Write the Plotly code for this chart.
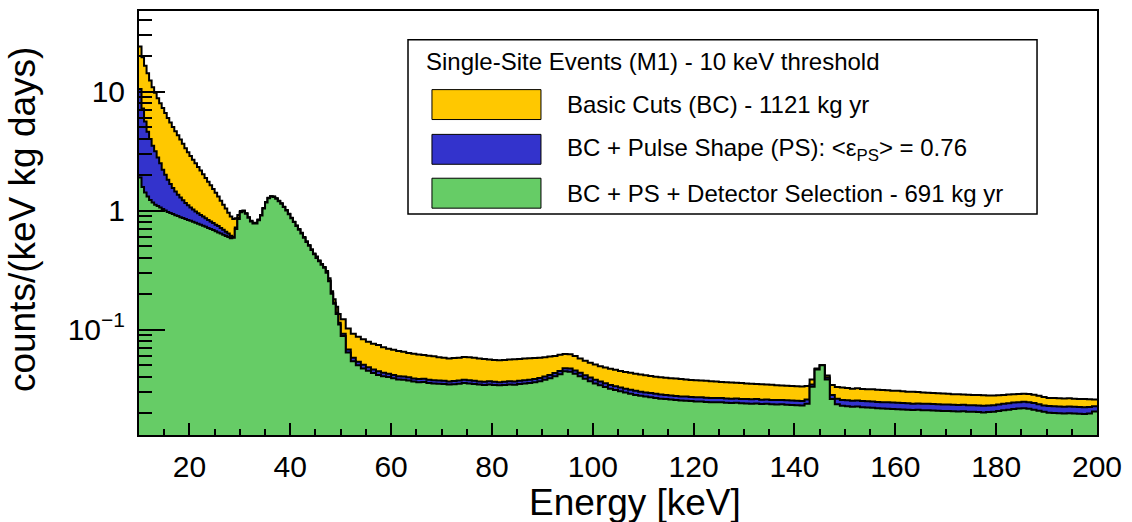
import plotly.graph_objects as go

# Bin edges in keV: 0.5 keV bins from 10 to 50, 1 keV bins from 50 to 200
bin_edges = [10 + 0.5 * i for i in range(80)] + list(range(50, 201))

# Basic Cuts (BC) - 1121 kg yr
bc = [
    # 10-50 keV (0.5 keV bins)
    24, 19.5, 16.5, 14.3, 12.4, 10.9, 9.8, 8.8, 8.0, 7.3,
    6.6, 6.0, 5.5, 5.05, 4.65, 4.3, 3.95, 3.65, 3.35, 3.1,
    2.88, 2.68, 2.5, 2.33, 2.17, 2.02, 1.88, 1.75, 1.63, 1.52,
    1.41, 1.31, 1.21, 1.12, 1.04, 0.96, 0.89, 0.85, 0.86, 0.92,
    0.99, 1.0, 0.95, 0.88, 0.82, 0.79, 0.79, 0.84, 0.92, 1.05,
    1.18, 1.28, 1.32, 1.31, 1.27, 1.21, 1.15, 1.07, 1.01, 0.94,
    0.87, 0.8, 0.75, 0.7, 0.65, 0.6, 0.55, 0.51, 0.47, 0.43,
    0.41, 0.38, 0.355, 0.335, 0.31, 0.27, 0.21, 0.18, 0.155, 0.135,
    # 50-200 keV (1 keV bins)
    0.122, 0.102, 0.092, 0.087, 0.083, 0.079, 0.076, 0.074, 0.071, 0.069,
    0.0675, 0.066, 0.065, 0.0635, 0.0625, 0.0615, 0.061, 0.0602, 0.0595, 0.0585,
    0.0578, 0.057, 0.0575, 0.058, 0.0588, 0.0585, 0.0578, 0.057, 0.0565, 0.056,
    0.0555, 0.0552, 0.0555, 0.056, 0.0562, 0.0565, 0.057, 0.0572, 0.0575, 0.058,
    0.0585, 0.0592, 0.06, 0.0612, 0.0622, 0.062, 0.0598, 0.057, 0.0545, 0.0525,
    0.0508, 0.0492, 0.048, 0.0468, 0.0458, 0.0448, 0.044, 0.0432, 0.0425, 0.0418,
    0.0412, 0.0406, 0.0401, 0.0397, 0.0393, 0.039, 0.0387, 0.0384, 0.038, 0.0377,
    0.0375, 0.0372, 0.037, 0.0368, 0.0365, 0.0362, 0.036, 0.0358, 0.0356, 0.0355,
    0.0352, 0.035, 0.0348, 0.0346, 0.0345, 0.0343, 0.034, 0.0339, 0.0337, 0.0335,
    0.0333, 0.0332, 0.0335, 0.038, 0.047, 0.05, 0.041, 0.0342, 0.0328, 0.0325,
    0.0322, 0.0318, 0.032, 0.0316, 0.0314, 0.0315, 0.0312, 0.031, 0.0308, 0.0306,
    0.0305, 0.0303, 0.03, 0.0299, 0.0298, 0.0296, 0.0294, 0.0292, 0.0291, 0.029,
    0.0288, 0.0286, 0.0285, 0.0284, 0.0283, 0.0282, 0.0281, 0.028, 0.0279, 0.0279,
    0.028, 0.0282, 0.0284, 0.0286, 0.0287, 0.0288, 0.0287, 0.0283, 0.0277, 0.0271,
    0.0266, 0.0265, 0.0264, 0.0263, 0.0264, 0.0262, 0.0261, 0.026, 0.0259, 0.0258,
]

# BC + Pulse Shape (PS)
bc_ps = [
    # 10-50 keV (0.5 keV bins)
    10.5, 7.2, 5.6, 4.6, 4.0, 3.5, 3.15, 2.8, 2.5, 2.2,
    2.0, 1.82, 1.67, 1.55, 1.45, 1.36, 1.29, 1.22, 1.16, 1.11,
    1.06, 1.02, 0.98, 0.95, 0.92, 0.89, 0.86, 0.835, 0.81, 0.785,
    0.76, 0.74, 0.715, 0.69, 0.665, 0.64, 0.615, 0.6, 0.72, 0.87,
    0.975, 0.99, 0.945, 0.875, 0.815, 0.785, 0.785, 0.835, 0.915, 1.045,
    1.175, 1.275, 1.315, 1.305, 1.265, 1.205, 1.145, 1.075, 1.005, 0.935,
    0.865, 0.805, 0.745, 0.695, 0.645, 0.595, 0.55, 0.51, 0.47, 0.435,
    0.404, 0.378, 0.353, 0.333, 0.303, 0.258, 0.204, 0.168, 0.138, 0.114,
    # 50-200 keV (1 keV bins)
    0.092, 0.068, 0.058, 0.0535, 0.0505, 0.0482, 0.0462, 0.0445, 0.0432, 0.0425,
    0.0415, 0.0405, 0.0402, 0.0396, 0.0388, 0.0383, 0.0385, 0.0378, 0.0374, 0.0372,
    0.037, 0.0366, 0.0369, 0.0373, 0.0378, 0.0375, 0.037, 0.0366, 0.0363, 0.0367,
    0.0363, 0.0361, 0.0364, 0.0367, 0.0365, 0.037, 0.0375, 0.0378, 0.0383, 0.0392,
    0.0402, 0.0415, 0.043, 0.0447, 0.0472, 0.047, 0.0452, 0.0432, 0.0412, 0.0394,
    0.0378, 0.0365, 0.0353, 0.0342, 0.0334, 0.0325, 0.0318, 0.0311, 0.0305, 0.03,
    0.0295, 0.0292, 0.0288, 0.0284, 0.0281, 0.0279, 0.0276, 0.0274, 0.0273, 0.0271,
    0.0269, 0.0269, 0.0267, 0.0266, 0.0265, 0.0265, 0.0263, 0.0262, 0.0263, 0.0261,
    0.026, 0.0259, 0.026, 0.0257, 0.0258, 0.0256, 0.0255, 0.0256, 0.0254, 0.0253,
    0.0252, 0.0251, 0.0258, 0.0345, 0.0465, 0.05, 0.0395, 0.0282, 0.0262, 0.0256,
    0.0254, 0.0252, 0.0253, 0.025, 0.0249, 0.0248, 0.0246, 0.0245, 0.0244, 0.0243,
    0.0242, 0.0241, 0.024, 0.0238, 0.0239, 0.0237, 0.0237, 0.0236, 0.0235, 0.0234,
    0.0234, 0.0233, 0.0232, 0.0233, 0.0231, 0.0231, 0.023, 0.0229, 0.023, 0.0231,
    0.0234, 0.0237, 0.024, 0.0243, 0.0245, 0.0247, 0.0245, 0.0241, 0.0235, 0.023,
    0.0227, 0.0226, 0.0225, 0.0224, 0.0225, 0.0224, 0.0223, 0.0222, 0.0223, 0.0226,
]

# BC + PS + Detector Selection - 691 kg yr
bc_ps_ds = [
    # 10-50 keV (0.5 keV bins)
    1.9, 1.58, 1.42, 1.31, 1.23, 1.17, 1.12, 1.09, 1.06, 1.03,
    1.0, 0.975, 0.955, 0.935, 0.915, 0.9, 0.88, 0.865, 0.85, 0.835,
    0.82, 0.805, 0.79, 0.775, 0.76, 0.745, 0.73, 0.715, 0.7, 0.685,
    0.67, 0.655, 0.64, 0.625, 0.61, 0.6, 0.585, 0.59, 0.7, 0.85,
    0.97, 0.985, 0.94, 0.87, 0.81, 0.78, 0.78, 0.83, 0.91, 1.04,
    1.17, 1.27, 1.31, 1.3, 1.26, 1.2, 1.14, 1.07, 1.0, 0.93,
    0.86, 0.8, 0.74, 0.69, 0.64, 0.59, 0.545, 0.505, 0.465, 0.43,
    0.4, 0.375, 0.35, 0.33, 0.3, 0.255, 0.2, 0.165, 0.135, 0.11,
    # 50-200 keV (1 keV bins)
    0.088, 0.064, 0.054, 0.05, 0.047, 0.045, 0.043, 0.0415, 0.0405, 0.0398,
    0.039, 0.038, 0.0378, 0.0372, 0.0365, 0.036, 0.0362, 0.0355, 0.0352, 0.035,
    0.0348, 0.0345, 0.0347, 0.035, 0.0355, 0.0352, 0.0348, 0.0345, 0.0342, 0.0345,
    0.0342, 0.034, 0.0342, 0.0345, 0.0343, 0.0348, 0.0352, 0.0355, 0.036, 0.0368,
    0.0378, 0.039, 0.0405, 0.042, 0.0445, 0.0442, 0.0425, 0.0405, 0.0385, 0.0368,
    0.0352, 0.034, 0.0328, 0.0318, 0.031, 0.0302, 0.0295, 0.0288, 0.0282, 0.0278,
    0.0273, 0.027, 0.0266, 0.0262, 0.026, 0.0258, 0.0255, 0.0253, 0.0252, 0.025,
    0.0248, 0.0248, 0.0246, 0.0245, 0.0244, 0.0244, 0.0242, 0.0241, 0.0242, 0.024,
    0.0239, 0.0238, 0.0239, 0.0236, 0.0237, 0.0235, 0.0234, 0.0235, 0.0233, 0.0232,
    0.0231, 0.023, 0.0238, 0.033, 0.046, 0.05, 0.038, 0.026, 0.0235, 0.0228,
    0.0226, 0.0224, 0.0225, 0.0222, 0.0221, 0.022, 0.0218, 0.0217, 0.0216, 0.0215,
    0.0214, 0.0213, 0.0212, 0.021, 0.0211, 0.0209, 0.0209, 0.0208, 0.0207, 0.0206,
    0.0206, 0.0205, 0.0204, 0.0205, 0.0203, 0.0203, 0.0202, 0.0201, 0.0202, 0.0203,
    0.0206, 0.0209, 0.0212, 0.0215, 0.0217, 0.0218, 0.0216, 0.0212, 0.0207, 0.0203,
    0.02, 0.0199, 0.0198, 0.0197, 0.0198, 0.0197, 0.0196, 0.0195, 0.0197, 0.0204,
]

x_ticks = [20, 40, 60, 80, 100, 120, 140, 160, 180, 200]
y_ticks = [0.1, 1, 10]
y_ticktext = ["10<sup>\u22121</sup>", "1", "10"]

legend_header = "Single-Site Events (M1) - 10 keV threshold"
legend_labels = [
    "Basic Cuts (BC) - 1121 kg yr",
    "BC + Pulse Shape (PS): &lt;\u03b5<sub>PS</sub>&gt; = 0.76",
    "BC + PS + Detector Selection - 691 kg yr",
]

YELLOW = "rgb(255,200,0)"
BLUE = "rgb(51,51,204)"
GREEN = "rgb(102,204,102)"
colors = [YELLOW, BLUE, GREEN]
FONT = "Liberation Sans, Arial, Helvetica, sans-serif"

fig = go.Figure()
for vals, col in zip([bc, bc_ps, bc_ps_ds], colors):
    fig.add_trace(go.Scatter(
        x=bin_edges, y=vals + [vals[-1]],
        mode="lines",
        line=dict(shape="hv", color="black", width=2),
        fill="tozeroy", fillcolor=col,
        showlegend=False, hoverinfo="skip",
    ))

minor_y = [m * 10 ** k for k in (-2, -1, 0, 1) for m in range(2, 10)]

fig.update_layout(
    width=1132, height=522,
    margin=dict(l=139, r=35, t=9, b=87),
    paper_bgcolor="white", plot_bgcolor="white",
    font=dict(family=FONT, color="black"),
    xaxis=dict(
        range=[10, 200], tickvals=x_ticks,
        ticks="inside", ticklen=12, tickwidth=1.5, tickcolor="black",
        minor=dict(dtick=5, tick0=0, ticks="inside", ticklen=6, tickwidth=1.5, tickcolor="black"),
        showline=True, linewidth=2, linecolor="black", mirror=True,
        showgrid=False, zeroline=False,
        tickfont=dict(size=30, family=FONT), ticklabelstandoff=4,
    ),
    yaxis=dict(
        type="log", range=[-1.887, 1.678],
        tickvals=y_ticks, ticktext=y_ticktext,
        ticks="inside", ticklen=26, tickwidth=1.5, tickcolor="black",
        minor=dict(tickvals=minor_y, ticks="inside", ticklen=13, tickwidth=1.5, tickcolor="black"),
        showline=True, linewidth=2, linecolor="black", mirror=True,
        showgrid=False, zeroline=False,
        tickfont=dict(size=30, family=FONT), ticklabelstandoff=6,
    ),
)

# Axis titles
fig.add_annotation(text="Energy [keV]", xref="paper", yref="paper",
                   x=0.5177, y=-0.16, xanchor="center", yanchor="middle",
                   showarrow=False, font=dict(size=37, family=FONT))
fig.add_annotation(text="counts/(keV kg days)", xref="paper", yref="paper",
                   x=-0.1222, y=0.509, xanchor="center", yanchor="middle", textangle=-90,
                   showarrow=False, font=dict(size=37, family=FONT))

# Legend box
fig.add_shape(type="rect", xref="paper", yref="paper",
              x0=0.2808, x1=0.9374, y0=0.521, y1=0.932,
              line=dict(color="black", width=1.5), fillcolor="white", layer="above")
fig.add_annotation(text=legend_header, xref="paper", yref="paper",
                   x=0.2975, y=0.880, xanchor="left", yanchor="middle",
                   showarrow=False, font=dict(size=24, family=FONT))
row_y = [(0.744, 0.8146, 0.779), (0.6385, 0.709, 0.674), (0.535, 0.6056, 0.570)]
for (y0, y1, yc), col, lab in zip(row_y, colors, legend_labels):
    fig.add_shape(type="rect", xref="paper", yref="paper",
                  x0=0.3058, x1=0.4196, y0=y0, y1=y1,
                  line=dict(color="black", width=1), fillcolor=col, layer="above")
    fig.add_annotation(text=lab, xref="paper", yref="paper",
                       x=0.4447, y=yc, xanchor="left", yanchor="middle",
                       showarrow=False, font=dict(size=24, family=FONT))

fig.write_html("out.html")
